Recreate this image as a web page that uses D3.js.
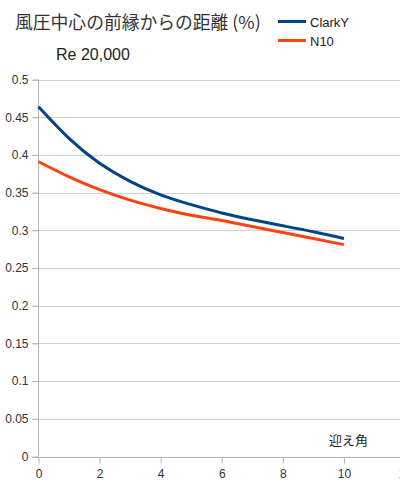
<!DOCTYPE html>
<html><head><meta charset="utf-8">
<script src="https://cdn.jsdelivr.net/npm/d3@7"></script>
<style>
html,body{margin:0;padding:0;background:#fff;overflow:hidden;}
svg{display:block;font-family:"Liberation Sans",Arial,sans-serif;}
</style></head>
<body>
<script>
const title = "風圧中心の前縁からの距離 (%)";
const subtitle = "Re 20,000";
const xLabel = "迎え角";
const angles = [0, 1, 2, 3, 4, 5, 6, 7, 8, 9, 10];
const clarkY = [0.464, 0.422, 0.389, 0.365, 0.347, 0.334, 0.323, 0.314, 0.306, 0.298, 0.289];
const n10 = [0.391, 0.371, 0.354, 0.340, 0.329, 0.320, 0.313, 0.305, 0.297, 0.289, 0.281];
const seriesNames = ["ClarkY", "N10"];
const seriesColors = ["#004586", "#ff420e"];
const xTicks = [0, 2, 4, 6, 8, 10, 12];
const yTicks = [0, 0.05, 0.1, 0.15, 0.2, 0.25, 0.3, 0.35, 0.4, 0.45, 0.5];

const W = 400, H = 500;
const svg = d3.select("body").append("svg").attr("width", W).attr("height", H);

const x = d3.scaleLinear().domain([0, 12]).range([38.5, 405]);
const y = d3.scaleLinear().domain([0, 0.5]).range([456.5, 79.5]);

// gridlines
svg.append("g").selectAll("line").data(yTicks.filter(d => d > 0)).join("line")
  .attr("x1", 32).attr("x2", W)
  .attr("y1", d => Math.round(y(d)) + 0.5).attr("y2", d => Math.round(y(d)) + 0.5)
  .attr("stroke", "#d0d0d0").attr("stroke-width", 1);

// y axis
const yAxis = d3.axisLeft(y).tickValues(yTicks).tickSize(6).tickPadding(4)
  .tickFormat(d => d === 0 ? "0" : d3.format("")(+d.toFixed(2)));
const gy = svg.append("g").attr("transform", "translate(38.5,0)").call(yAxis);
gy.select(".domain").attr("stroke", "#b3b3b3").attr("d", `M0,${y(0.5)}V${y(0)}`);
gy.selectAll(".tick line").attr("stroke", "#b3b3b3");
gy.selectAll(".tick text").attr("fill", "#333").attr("font-size", 12)
  .attr("font-family", "'Liberation Sans',Arial,sans-serif");

// x axis
const xAxis = d3.axisBottom(x).tickValues(xTicks).tickSize(6).tickPadding(6).tickFormat(d3.format("d"));
const gx = svg.append("g").attr("transform", `translate(0,${Math.round(y(0)) + 0.5})`).call(xAxis);
gx.select(".domain").attr("stroke", "#b3b3b3").attr("d", `M32,0H${W}`);
gx.selectAll(".tick line").attr("stroke", "#b3b3b3");
gx.selectAll(".tick text").attr("fill", "#333").attr("font-size", 12)
  .attr("font-family", "'Liberation Sans',Arial,sans-serif");

// lines
const line = d3.line().x((d, i) => x(angles[i])).y(d => y(d)).curve(d3.curveNatural);
[clarkY, n10].forEach((s, i) => {
  svg.append("path").datum(s).attr("d", line).attr("fill", "none")
    .attr("stroke", seriesColors[i]).attr("stroke-width", 3);
});

// title
svg.append("text").attr("x", 15).attr("y", 29).text(title)
  .attr("font-family", "'Noto Sans CJK JP','Liberation Sans',sans-serif")
  .attr("font-size", 17.8).attr("fill", "#333");
svg.append("text").attr("x", 56).attr("y", 59.5).text(subtitle)
  .attr("font-size", 16).attr("fill", "#222");

// legend
seriesNames.forEach((n, i) => {
  const ly = 21.5 + i * 19;
  svg.append("line").attr("x1", 278).attr("x2", 306).attr("y1", ly).attr("y2", ly)
    .attr("stroke", seriesColors[i]).attr("stroke-width", 3);
  svg.append("text").attr("x", 310).attr("y", ly + 5).text(n)
    .attr("font-size", 13).attr("fill", "#222");
});

// x label
svg.append("text").attr("x", 329).attr("y", 445).text(xLabel)
  .attr("font-family", "'Noto Sans CJK JP',sans-serif")
  .attr("font-size", 13).attr("fill", "#222");
</script>
</body></html>
